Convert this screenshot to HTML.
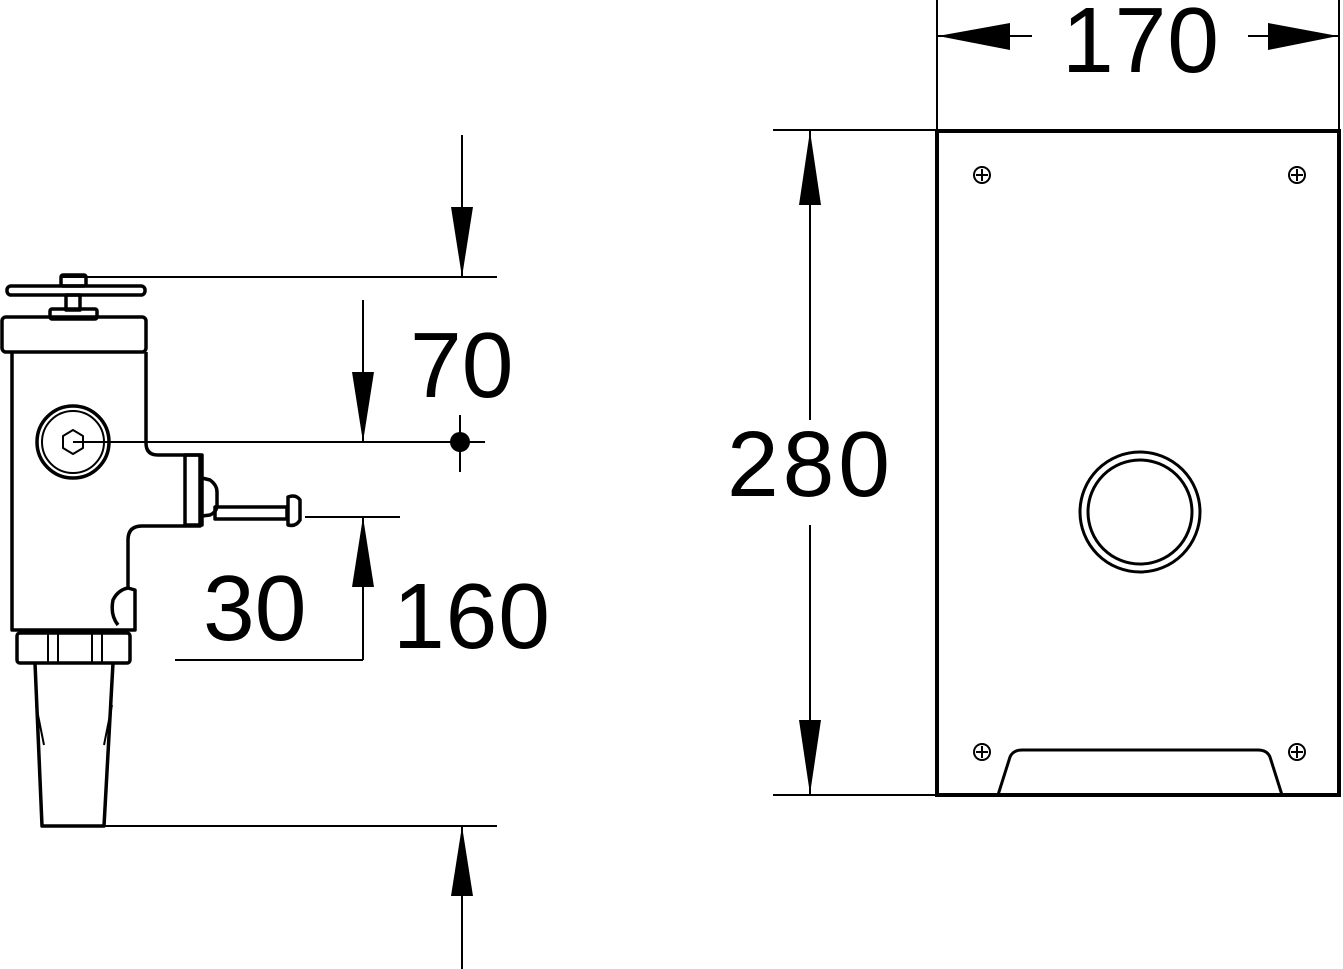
<!DOCTYPE html>
<html><head><style>html,body{margin:0;padding:0;background:#fff}svg{display:block}</style></head><body>
<svg width="1343" height="969" viewBox="0 0 1343 969" xmlns="http://www.w3.org/2000/svg">
<g fill="none" stroke="#000" stroke-width="2">
<line x1="60" y1="277" x2="497" y2="277"/>
<line x1="462" y1="135" x2="462" y2="277"/>
<line x1="102" y1="826" x2="497" y2="826"/>
<line x1="462" y1="826" x2="462" y2="969"/>
<line x1="363" y1="300" x2="363" y2="442"/>
<line x1="73" y1="442" x2="485" y2="442"/>
<line x1="460" y1="415" x2="460" y2="472"/>
<line x1="305" y1="517" x2="400" y2="517"/>
<line x1="363" y1="517" x2="363" y2="660"/>
<line x1="175" y1="660" x2="363" y2="660"/>
<line x1="773" y1="130" x2="937" y2="130"/>
<line x1="773" y1="795" x2="937" y2="795"/>
<line x1="810" y1="130" x2="810" y2="420"/>
<line x1="810" y1="525" x2="810" y2="795"/>
<line x1="937" y1="0" x2="937" y2="130"/>
<line x1="1339" y1="0" x2="1339" y2="130"/>
<line x1="937" y1="36" x2="1032" y2="36"/>
<line x1="1248" y1="36" x2="1339" y2="36"/>
</g>
<g fill="#000">
<polygon points="462,277 451,207 473,207"/>
<polygon points="462,826 451,896 473,896"/>
<polygon points="363,442 352,372 374,372"/>
<polygon points="363,517 352,587 374,587"/>
<circle cx="460" cy="442" r="10"/>
<polygon points="810,131 799,205 821,205"/>
<polygon points="810,794 799,720 821,720"/>
<polygon points="938,36 1010,23 1010,50"/>
<polygon points="1338,36 1268,23 1268,50"/>
</g>
<g font-family="Liberation Sans, sans-serif" font-size="93" fill="#000">
<text x="410" y="397">70</text>
<text x="203" y="640">30</text>
<text x="393" y="648" textLength="157">160</text>
<text x="727" y="496" textLength="163">280</text>
<text x="1062" y="72" textLength="157">170</text>
</g>
<g fill="none" stroke="#000" stroke-width="3.5" stroke-linejoin="round">
<rect x="7" y="286" width="138" height="9" rx="4"/>
<rect x="61" y="275" width="25" height="11" rx="2"/>
<rect x="66" y="295" width="14" height="15"/>
<rect x="50" y="309" width="47" height="10" rx="2"/>
<rect x="2" y="317" width="144" height="35" rx="4"/>
<path d="M12 352 V630 H135 V590 L128 588 V540 Q128 526 142 526 H200 V455 H158 Q146 455 146 443 V352"/>
<rect x="185" y="455" width="17" height="70"/>
<path d="M202 478 L210 480 Q217 485 217 492 V505 Q217 512 210 515 L202 516"/>
<rect x="215" y="507" width="72" height="12"/>
<path d="M288 497 Q296 494 300 500 V520 Q296 527 288 525 Z"/>
<path d="M118 625 Q110 615 113 600 Q118 590 128 588"/>
<circle cx="73" cy="442" r="36"/>
<circle cx="73" cy="442" r="31" stroke-width="2"/>
<polygon points="73,430 83,436 83,448 73,454 63,448 63,436" stroke-width="2"/>
<rect x="17" y="633" width="113" height="30" rx="3"/>
<line x1="48" y1="633" x2="48" y2="663" stroke-width="2"/>
<line x1="58" y1="633" x2="58" y2="663" stroke-width="2"/>
<line x1="92" y1="633" x2="92" y2="663" stroke-width="2"/>
<line x1="102" y1="633" x2="102" y2="663" stroke-width="2"/>
<path d="M35 663 L42 826 H104 L113 663"/>
<path d="M36 705 L44 745 M112 705 L104 745" stroke-width="2"/>
</g>
<g fill="none" stroke="#000">
<rect x="937" y="131" width="402" height="664" stroke-width="4"/>
<circle cx="1140" cy="512" r="60" stroke-width="3"/>
<circle cx="1140" cy="512" r="52" stroke-width="3"/>
<path d="M998 795 L1010 757 Q1013 750 1022 750 H1258 Q1267 750 1270 757 L1282 795" stroke-width="3"/>
<g stroke-width="2">
<circle cx="982" cy="175" r="8"/><path d="M976 175h12M982 169v12"/>
<circle cx="1297" cy="175" r="8"/><path d="M1291 175h12M1297 169v12"/>
<circle cx="982" cy="752" r="8"/><path d="M976 752h12M982 746v12"/>
<circle cx="1297" cy="752" r="8"/><path d="M1291 752h12M1297 746v12"/>
</g>
</g>
</svg>
</body></html>
